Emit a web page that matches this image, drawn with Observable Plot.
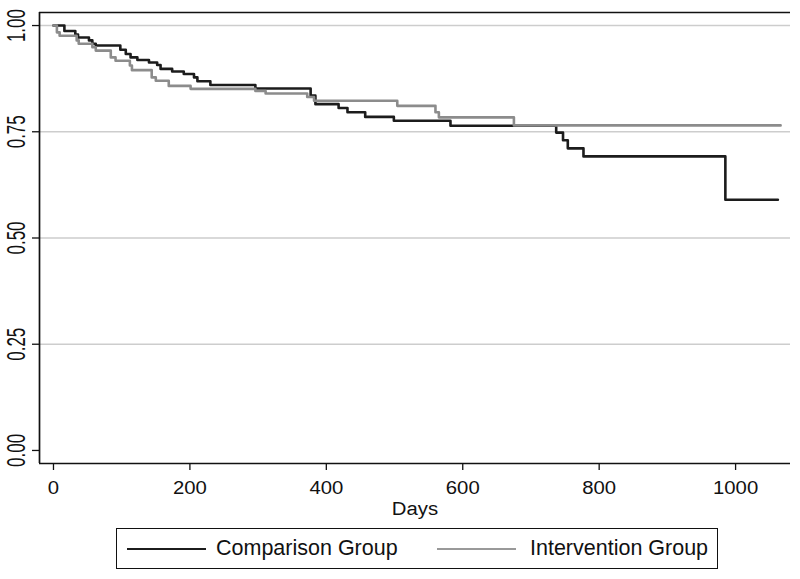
<!DOCTYPE html>
<html>
<head>
<meta charset="utf-8">
<script src="https://cdn.jsdelivr.net/npm/d3@7"></script>
<script src="https://cdn.jsdelivr.net/npm/@observablehq/plot@0.6"></script>
<style>
  html, body { margin: 0; padding: 0; background: #fff; }
  body { position: relative; width: 800px; height: 579px; overflow: hidden; font-family: "Liberation Sans", Arial, sans-serif; }
  #chart { position: absolute; left: 0; top: 0; }
  #legend { position: absolute; left: 116px; top: 528px; width: 600px; height: 39px; border: 1.5px solid #111; box-sizing: content-box; }
  .sw { position: absolute; top: 19px; height: 0; width: 79px; }
  .lt { position: absolute; top: 7px; font-size: 21.5px; line-height: 24px; color: #111; white-space: nowrap; }
</style>
</head>
<body>
<div id="chart"></div>
<div id="legend"></div>
<script>
// Series (Kaplan-Meier step points): day of step, survival after step
const comparisonDays = [0, 16, 32, 36, 52, 57, 62, 98, 106, 113, 123, 140, 152, 157, 174, 191, 206, 211, 230, 296, 377, 384, 418, 431, 457, 499, 582, 737, 747, 754, 777, 985, 1062];
const comparisonSurv = [1.0, 0.987, 0.979, 0.972, 0.965, 0.957, 0.953, 0.943, 0.933, 0.925, 0.919, 0.913, 0.907, 0.898, 0.892, 0.886, 0.878, 0.869, 0.860, 0.852, 0.835, 0.815, 0.806, 0.796, 0.785, 0.776, 0.764, 0.748, 0.730, 0.711, 0.692, 0.590, 0.590];

const interventionDays = [0, 5, 9, 34, 37, 57, 62, 84, 91, 112, 115, 144, 150, 169, 201, 296, 311, 372, 382, 504, 560, 565, 570, 675, 1066];
const interventionSurv = [1.0, 0.984, 0.976, 0.965, 0.957, 0.949, 0.941, 0.925, 0.917, 0.906, 0.895, 0.878, 0.870, 0.858, 0.851, 0.846, 0.840, 0.832, 0.823, 0.811, 0.796, 0.784, 0.784, 0.765, 0.765];

const seriesNames = ["Comparison Group", "Intervention Group"];
const xTicks = [0, 200, 400, 600, 800, 1000];
const yTicks = [0, 0.25, 0.5, 0.75, 1];
const gridTicks = [0.25, 0.5, 0.75, 1];
const xLabel = "Days";

const colors = ["#1c1c1c", "#8c8c8c"];

const comp = comparisonDays.map((d, i) => ({day: d, s: comparisonSurv[i]}));
const inter = interventionDays.map((d, i) => ({day: d, s: interventionSurv[i]}));

const xDomain = [-20.5, 1080.5];
const yDomain = [-0.0307, 1.0307];
const fmtY = d3.format(".2f");

const plot = Plot.plot({
  width: 800,
  height: 520,
  marginTop: 12,
  marginBottom: 57,
  marginLeft: 39,
  marginRight: 10,
  x: {domain: xDomain},
  y: {domain: yDomain},
  style: {fontFamily: "'Liberation Sans', Arial, sans-serif", background: "white", color: "#111", overflow: "visible"},
  marks: [
    Plot.ruleY(gridTicks, {stroke: "#cdcdcd", strokeWidth: 1.5}),
    Plot.line(comp, {x: "day", y: "s", curve: "step-after", stroke: colors[0], strokeWidth: 2.6}),
    Plot.line(inter, {x: "day", y: "s", curve: "step-after", stroke: colors[1], strokeWidth: 2.6}),
    Plot.ruleX([xDomain[0]], {stroke: "#111", strokeWidth: 1.7}),
    Plot.ruleY([yDomain[0]], {stroke: "#111", strokeWidth: 1.7}),
    Plot.ruleY([yDomain[1]], {stroke: "#111", strokeWidth: 1.3}),
    Plot.axisX(xTicks, {tickSize: 7, tickPadding: 10, fontSize: 19, label: null, tickFormat: d3.format("d"), stroke: "#111", strokeWidth: 1.3}),
    Plot.axisY(yTicks, {tickSize: 7, text: null, label: null, stroke: "#111", strokeWidth: 1.3}),
    Plot.text(yTicks, {x: xDomain[0], y: d => d, text: d => fmtY(d), rotate: -90, dx: -23, fontSize: 17, textAnchor: "middle", lineAnchor: "middle", fill: "#111"}),
    Plot.text([xLabel], {frameAnchor: "bottom", dy: 45, lineAnchor: "middle", fontSize: 19, fill: "#111"})
  ]
});

document.getElementById("chart").appendChild(plot);

// Horizontally stretch texts (about their own centre) to mimic the reference's wide lettering
function stretchEl(t, k) {
  const parent = t.parentNode;
  const r = t.getBoundingClientRect();
  const cx = r.left + r.width / 2;
  const m = parent.getScreenCTM();
  const local = cx - (m ? m.e : 0);
  const g = document.createElementNS("http://www.w3.org/2000/svg", "g");
  g.setAttribute("transform", `translate(${local},0) scale(${k},1) translate(${-local},0)`);
  parent.insertBefore(g, t);
  g.appendChild(t);
}
const yLabelSet = new Set(yTicks.map(fmtY));
Array.from(plot.querySelectorAll("text")).forEach(t => {
  const s = t.textContent;
  if (yLabelSet.has(s)) stretchEl(t, 1.5);
  else stretchEl(t, 1.07);
});

// Legend
const legend = document.getElementById("legend");
const items = [
  {name: seriesNames[0], color: colors[0], sw: 10, tx: 99},
  {name: seriesNames[1], color: "#999", sw: 320, tx: 413}
];
items.forEach(it => {
  const s = document.createElement("div");
  s.className = "sw";
  s.style.left = it.sw + "px";
  s.style.borderTop = `2.3px solid ${it.color}`;
  legend.appendChild(s);
  const l = document.createElement("div");
  l.className = "lt";
  l.style.left = it.tx + "px";
  l.textContent = it.name;
  legend.appendChild(l);
});
</script>
</body>
</html>
